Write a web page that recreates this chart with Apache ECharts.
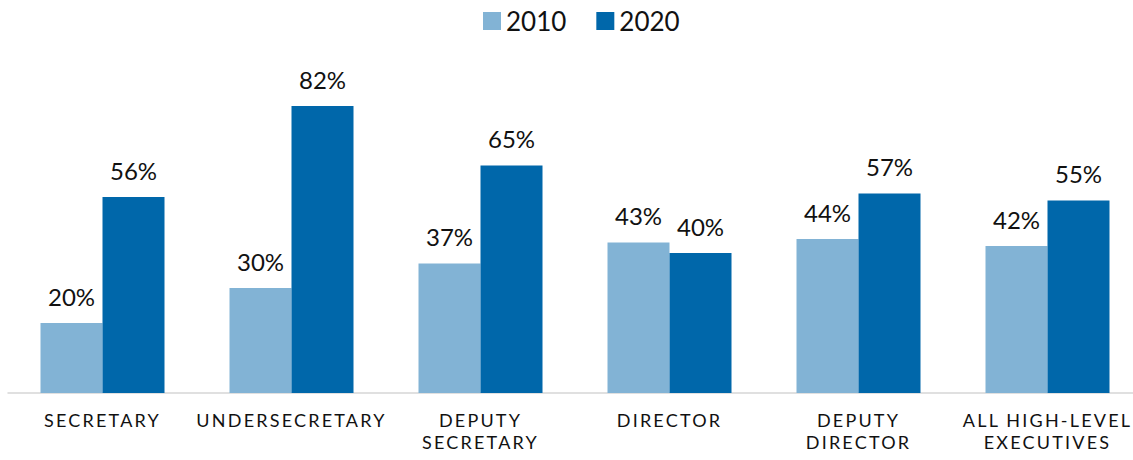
<!DOCTYPE html>
<html>
<head>
<meta charset="utf-8">
<script src="https://cdn.jsdelivr.net/npm/echarts@6/dist/echarts.min.js"></script>
<style>
  html, body { margin: 0; padding: 0; background: #fff; }
  #chart { width: 1133px; height: 460px; }
  /* axis labels are spaced out, like in the original */
  #chart text[style*="18px"] { letter-spacing: 2.2px; }
</style>
</head>
<body>
<div id="chart"></div>
<script>
// data
const categories = ['SECRETARY', 'UNDERSECRETARY', 'DEPUTY\nSECRETARY', 'DIRECTOR', 'DEPUTY\nDIRECTOR', 'ALL HIGH-LEVEL\nEXECUTIVES']
const years = ['2010', '2020']
const values2010 = [20, 30, 37, 43, 44, 42]
const values2020 = [56, 82, 65, 40, 57, 55]

const colors = ['#82B3D5', '#0067AA']

let chart = echarts.init(document.getElementById('chart'), null, { renderer: 'svg' })

let labelStyle = {
  show: true,
  position: 'top',
  distance: 15,
  formatter: '{c}%',
  color: '#111',
  fontFamily: 'Lato',
  fontSize: 24
}

chart.setOption({
  backgroundColor: '#fff',
  animation: false,
  textStyle: { fontFamily: 'Lato' },
  legend: {
    data: years,
    top: 3,
    left: 478,
    itemWidth: 18,
    itemHeight: 18,
    itemGap: 30,
    icon: 'rect',
    textStyle: { fontSize: 26, color: '#111', fontFamily: 'Lato' }
  },
  grid: {
    left: 8,
    top: 43,
    width: 1134,
    bottom: 67,
    outerBoundsMode: 'none'
  },
  xAxis: {
    type: 'category',
    data: categories,
    axisLine: { lineStyle: { color: '#D6D6D6', width: 1.5 } },
    axisTick: { show: false },
    axisLabel: {
      interval: 0,
      margin: 16,
      fontSize: 18,
      lineHeight: 22,
      color: '#111',
      fontFamily: 'Lato'
    }
  },
  yAxis: {
    type: 'value',
    min: 0,
    max: 100,
    show: false,
    splitLine: { show: false }
  },
  series: [
    {
      name: years[0],
      type: 'bar',
      data: values2010,
      barWidth: 62,
      barGap: '0%',
      itemStyle: { color: colors[0] },
      label: labelStyle
    },
    {
      name: years[1],
      type: 'bar',
      data: values2020,
      barWidth: 62,
      barGap: '0%',
      itemStyle: { color: colors[1] },
      label: labelStyle
    }
  ]
})
</script>
</body>
</html>
